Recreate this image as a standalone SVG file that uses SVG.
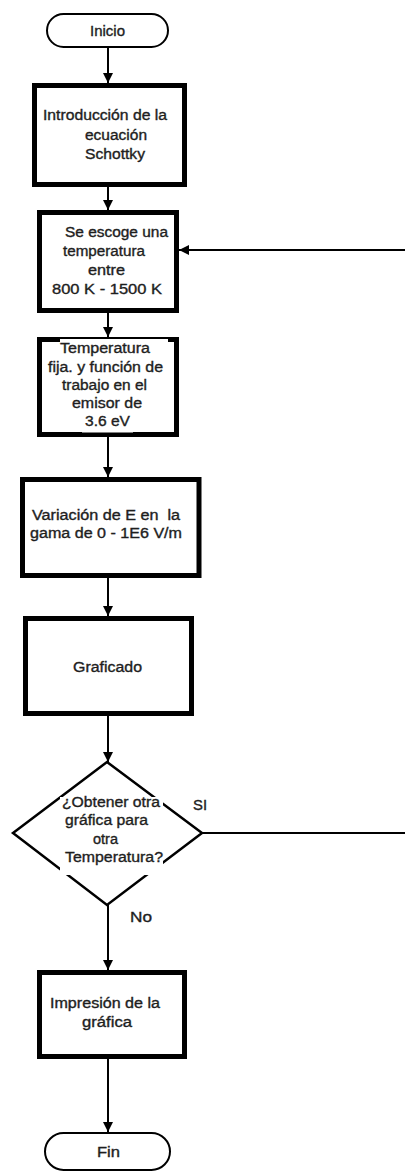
<svg xmlns="http://www.w3.org/2000/svg" width="405" height="1174" viewBox="0 0 405 1174">
<defs>
<style>
.t{font-family:"Liberation Sans",Arial,sans-serif;font-size:14px;fill:#1e1e1e;stroke:#1e1e1e;stroke-width:0.35;}
.box{fill:#fff;stroke:#000;stroke-width:5;}
.term{fill:#fff;stroke:#000;stroke-width:2;}
.dec{fill:#fff;stroke:#000;stroke-width:2.5;stroke-linejoin:miter;}
.c{fill:none;stroke:#000;stroke-width:2;}
.wb{fill:#fff;stroke:none;}
</style>
<marker id="ah" markerUnits="userSpaceOnUse" markerWidth="10" markerHeight="10" refX="10" refY="5" orient="auto" viewBox="0 0 10 10">
<path d="M0,0 L10,5 L0,10 z" fill="#000"/>
</marker>
</defs>
<rect width="405" height="1174" fill="#fff"/>
<g id="connectors">
<path class="c" d="M108,47 V83" marker-end="url(#ah)"/>
<path class="c" d="M108,187 V210" marker-end="url(#ah)"/>
<path class="c" d="M108,313 V337" marker-end="url(#ah)"/>
<path class="c" d="M108,437 V477" marker-end="url(#ah)"/>
<path class="c" d="M108,578 V616" marker-end="url(#ah)"/>
<path class="c" d="M108,716 V762" marker-end="url(#ah)"/>
<path class="c" d="M108,905 V970" marker-end="url(#ah)"/>
<path class="c" d="M108,1059 V1132" marker-end="url(#ah)"/>
<path class="c" d="M202,833 H405"/>
<path class="c" d="M405,250 H179" marker-end="url(#ah)"/>
</g>
<g id="inicio">
<rect class="term" x="47" y="14" width="121" height="33" rx="16.5"/>
<text class="t" x="90" y="36" textLength="35" lengthAdjust="spacingAndGlyphs">Inicio</text>
</g>
<g id="intro">
<rect class="box" x="34.5" y="85.5" width="150" height="99"/>
<text class="t" x="43" y="120" textLength="124" lengthAdjust="spacingAndGlyphs">Introducción de la</text>
<text class="t" x="85" y="140" textLength="62" lengthAdjust="spacingAndGlyphs">ecuación</text>
<text class="t" x="85" y="159" textLength="60" lengthAdjust="spacingAndGlyphs">Schottky</text>
</g>
<g id="escoge">
<rect class="box" x="39.5" y="212.5" width="137" height="98"/>
<text class="t" x="65" y="237" textLength="103" lengthAdjust="spacingAndGlyphs">Se escoge una</text>
<text class="t" x="63" y="256" textLength="82" lengthAdjust="spacingAndGlyphs">temperatura</text>
<text class="t" x="88" y="275" textLength="37" lengthAdjust="spacingAndGlyphs">entre</text>
<text class="t" x="52" y="294" textLength="110" lengthAdjust="spacingAndGlyphs">800 K - 1500 K</text>
</g>
<g id="fija">
<rect class="box" x="39.5" y="339.5" width="137" height="95"/>
<rect class="wb" x="60" y="339" width="108" height="3"/>
<rect class="wb" x="82" y="430" width="51" height="2.5"/>
<text class="t" x="60" y="353" textLength="90" lengthAdjust="spacingAndGlyphs">Temperatura</text>
<text class="t" x="48" y="372" textLength="115" lengthAdjust="spacingAndGlyphs">fija. y función de</text>
<text class="t" x="62" y="390" textLength="85" lengthAdjust="spacingAndGlyphs">trabajo en el</text>
<text class="t" x="72" y="408" textLength="70" lengthAdjust="spacingAndGlyphs">emisor de</text>
<text class="t" x="85" y="426" textLength="45" lengthAdjust="spacingAndGlyphs">3.6 eV</text>
</g>
<g id="variacion">
<rect class="box" x="22.5" y="479.5" width="176.5" height="96"/>
<text class="t" x="32" y="520" textLength="148" lengthAdjust="spacingAndGlyphs" style="white-space:pre">Variación de E en  la</text>
<text class="t" x="30" y="538" textLength="152" lengthAdjust="spacingAndGlyphs">gama de 0 - 1E6 V/m</text>
</g>
<g id="graficado">
<rect class="box" x="25.5" y="618.5" width="166" height="95"/>
<text class="t" x="73" y="672" textLength="69" lengthAdjust="spacingAndGlyphs">Graficado</text>
</g>
<g id="decision">
<polygon class="dec" points="107,762 202,833 107,905 13,833"/>
<rect class="wb" x="60" y="797" width="103" height="78"/>
<text class="t" x="62" y="807" textLength="98" lengthAdjust="spacingAndGlyphs">¿Obtener otra</text>
<text class="t" x="65" y="825" textLength="83" lengthAdjust="spacingAndGlyphs">gráfica para</text>
<text class="t" x="93" y="844" textLength="25" lengthAdjust="spacingAndGlyphs">otra</text>
<text class="t" x="65" y="862" textLength="98" lengthAdjust="spacingAndGlyphs">Temperatura?</text>
</g>
<g id="labels">
<text class="t" x="193" y="810" textLength="14" lengthAdjust="spacingAndGlyphs">SI</text>
<text class="t" x="130" y="922" textLength="22" lengthAdjust="spacingAndGlyphs">No</text>
</g>
<g id="impresion">
<rect class="box" x="39.5" y="972.5" width="145" height="84"/>
<text class="t" x="50" y="1008" textLength="110" lengthAdjust="spacingAndGlyphs">Impresión de la</text>
<text class="t" x="82" y="1027" textLength="50" lengthAdjust="spacingAndGlyphs">gráfica</text>
</g>
<g id="fin">
<rect class="term" x="45" y="1133" width="125" height="37" rx="18.5"/>
<text class="t" x="97" y="1157" textLength="23" lengthAdjust="spacingAndGlyphs">Fin</text>
</g>
</svg>
